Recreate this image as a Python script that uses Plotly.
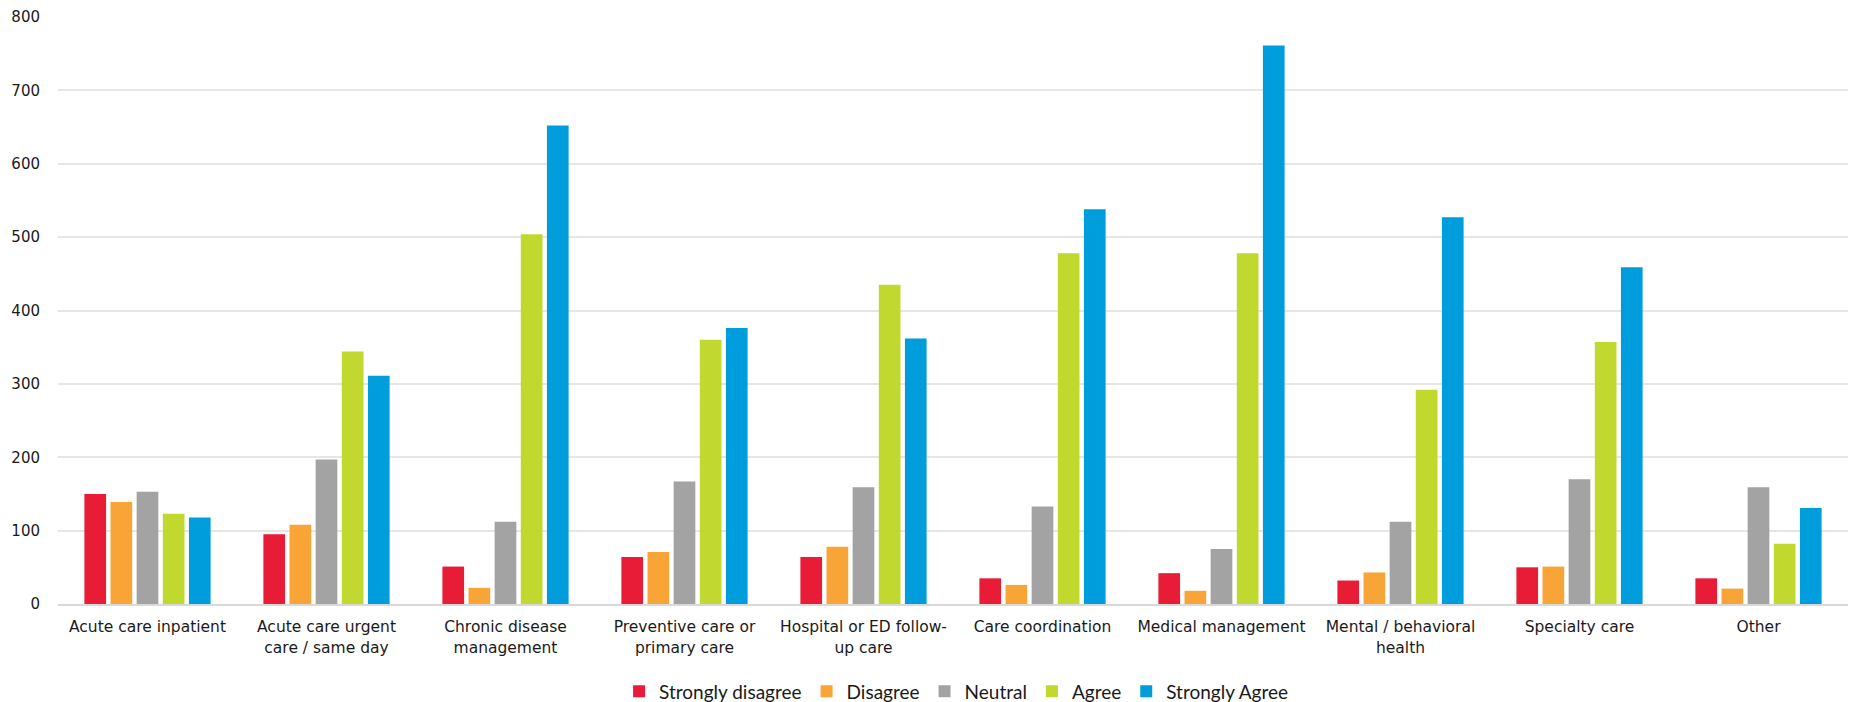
import plotly.graph_objects as go

categories = [
    "Acute care inpatient",
    "Acute care urgent<br>care / same day",
    "Chronic disease<br>management",
    "Preventive care or<br>primary care",
    "Hospital or ED follow-<br>up care",
    "Care coordination",
    "Medical management",
    "Mental / behavioral<br>health",
    "Specialty care",
    "Other",
]

strongly_disagree = [150, 95, 51, 64, 64, 35, 42, 32, 50, 35]
disagree = [139, 108, 22, 71, 78, 26, 18, 43, 51, 21]
neutral = [153, 197, 112, 167, 159, 133, 75, 112, 170, 159]
agree = [123, 344, 504, 360, 435, 478, 478, 292, 357, 82]
strongly_agree = [118, 311, 652, 376, 362, 538, 761, 527, 459, 131]

series_names = ["Strongly disagree", "Disagree", "Neutral", "Agree", "Strongly Agree"]
series_values = [strongly_disagree, disagree, neutral, agree, strongly_agree]
colors = ["#E81C36", "#F8A436", "#A3A3A4", "#C1D82F", "#009DDC"]

fig = go.Figure()
for name, vals, col in zip(series_names, series_values, colors):
    fig.add_trace(go.Bar(
        x=categories, y=vals, name=name,
        marker=dict(color=col, line=dict(width=0)),
    ))

fig.update_layout(
    width=1852, height=702,
    barmode="group", bargap=0.27, bargroupgap=0.17,
    plot_bgcolor="white", paper_bgcolor="white",
    margin=dict(l=58, r=4, t=17, b=98, autoexpand=False),
    font=dict(family="DejaVu Sans", size=15.5, color="#1a1a1a"),
    legend=dict(
        orientation="h", x=0.502, xanchor="center", y=-0.149, yanchor="middle",
        font=dict(family="Lato", size=19, color="#1a1a1a"),
        traceorder="normal", itemwidth=30,
    ),
    showlegend=True,
)
fig.update_xaxes(
    showline=True, linecolor="#D9D9D9", linewidth=1.5, ticks="",
    tickfont=dict(family="DejaVu Sans", size=15.5, color="#1a1a1a"),
    tickangle=0, ticklabelstandoff=8,
)
fig.update_yaxes(
    range=[0, 800], dtick=100, showgrid=True, gridcolor="#E6E6E6", gridwidth=1.5,
    zeroline=False, ticks="", ticklabelstandoff=17,
    tickfont=dict(family="DejaVu Sans", size=15, color="#1a1a1a"),
)

fig.write_html(
    "out.html",
    config={"displayModeBar": False},
    post_script="document.body.style.margin='0';document.body.style.overflow='hidden';",
)
